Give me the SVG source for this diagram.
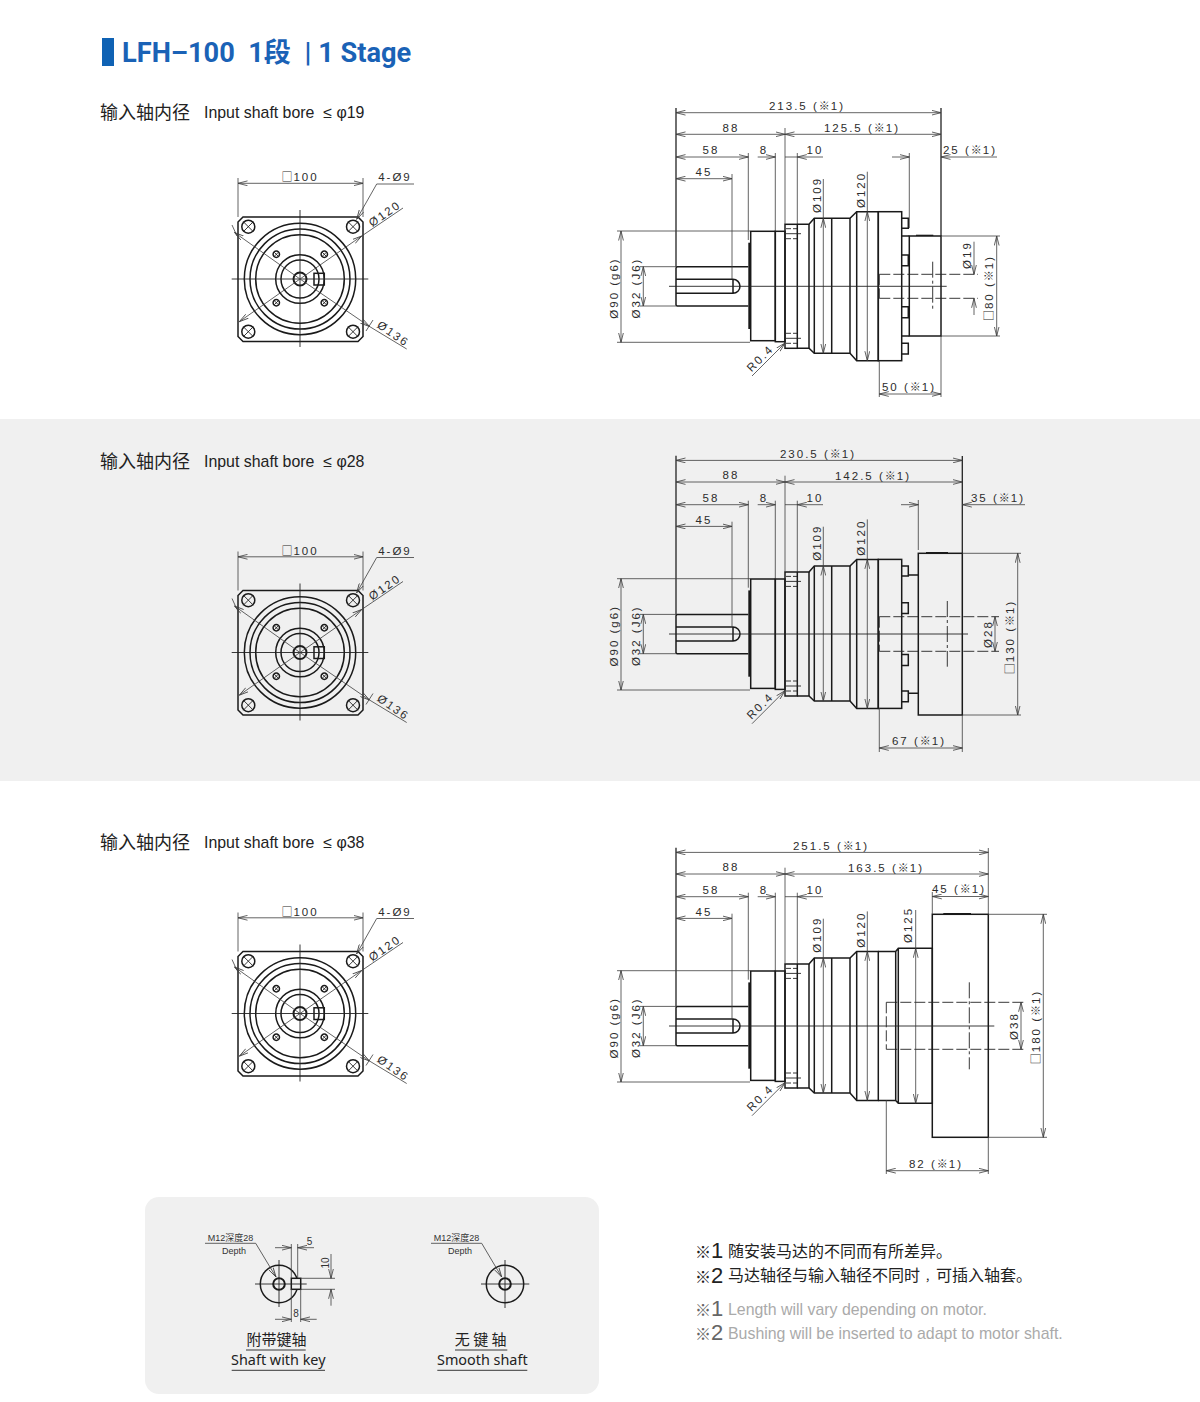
<svg xmlns="http://www.w3.org/2000/svg" xmlns:xlink="http://www.w3.org/1999/xlink" width="1200" height="1402" viewBox="0 0 1200 1402">
<style>
.o{fill:none;stroke:#1a1a1a;stroke-width:1.5}
.d,.a,.b,.c{fill:none;stroke:#3c3c3c;stroke-width:.8}
.a{marker-end:url(#v)}
.b{marker-start:url(#w);marker-end:url(#v)}
.c{stroke:#222;stroke-width:.9}
.f{fill:none;stroke:#222;stroke-width:1.3}
.h{fill:none;stroke:#222;stroke-width:.9;stroke-dasharray:11 3}
.k{fill:none;stroke:#222;stroke-width:.9;stroke-dasharray:16 3 3 3}
text{font-family:"Liberation Sans","Noto Sans CJK SC",sans-serif}
.t{font-size:11.5px;letter-spacing:2px;fill:#2c2c2c;text-anchor:middle}
.x{font-weight:700;font-size:11px;font-family:"Noto Sans CJK SC",sans-serif;letter-spacing:1px}
.bx{font-size:11px;font-family:"Noto Sans CJK SC",sans-serif;letter-spacing:1px}
.s{font-size:9px;fill:#333;text-anchor:middle}
.l{font-size:18px;fill:#222;font-family:"Noto Sans CJK SC",sans-serif}
.e{font-size:15.9px;fill:#222}
.cap{font-size:15px;fill:#222;text-anchor:middle;font-family:"Noto Sans CJK SC",sans-serif}
.en{font-size:14.4px;fill:#222;text-anchor:middle;font-family:"Noto Sans",sans-serif}
.n{font-size:16px;fill:#222;font-family:"Noto Sans CJK SC",sans-serif}
.g{font-size:15.9px;fill:#aaa}
.m{font-size:16px;font-weight:500;font-family:"Noto Sans CJK SC",sans-serif}
.q{font-size:22px}
</style>
<defs>
<marker id="v" markerUnits="userSpaceOnUse" markerWidth="10" markerHeight="6" refX="9.5" refY="3" orient="auto"><path d="M0,.6 L9.5,3 L0,5.4" fill="none" stroke="#3c3c3c" stroke-width=".8"/></marker>
<marker id="w" markerUnits="userSpaceOnUse" markerWidth="10" markerHeight="6" refX=".5" refY="3" orient="auto"><path d="M10,.6 L.5,3 L10,5.4" fill="none" stroke="#3c3c3c" stroke-width=".8"/></marker>
<g id="hole"><circle r="6.5" class="o"/><path d="M-5,-5 L5,5 M-5,5 L5,-5" class="c"/></g>
<g id="pin"><circle r="3.2" class="o"/><path d="M-2,-2 L2,2 M-2,2 L2,-2" class="c"/></g>
<g id="front">
<path d="M243,217 H358 L363,222 V336.5 L358,341.5 H243 L238,336.5 V222 Z" class="o"/>
<circle cx="300" cy="279" r="55.7" class="o"/><circle cx="300" cy="279" r="50" class="o"/><circle cx="300" cy="279" r="44.3" class="o"/>
<circle cx="300" cy="279" r="24.3" class="o"/><circle cx="300" cy="279" r="19" class="o"/>
<circle cx="300" cy="279" r="6.5" class="o" style="stroke-width:2"/>
<rect x="314" y="273.3" width="10.3" height="11.7" class="o"/>
<use xlink:href="#hole" x="248.3" y="226.7"/><use xlink:href="#hole" x="353" y="226.7"/><use xlink:href="#hole" x="248.3" y="331.7"/><use xlink:href="#hole" x="353" y="331.7"/>
<use xlink:href="#pin" x="276.3" y="254.3"/><use xlink:href="#pin" x="324.3" y="254.3"/><use xlink:href="#pin" x="276.3" y="302.7"/><use xlink:href="#pin" x="324.3" y="302.7"/>
<path d="M231.7,279 H368.3 M300,210 V347" class="c"/>
<path d="M238,178 V217 M363,178 V217" class="d"/>
<path d="M238,183.3 H363" class="b"/>
<path d="M414,184 H376.7 L356.7,219.3" class="a"/>
<path d="M403,208 L361.7,236" class="d"/><path d="M300,279 L361.7,236" class="a"/><path d="M300,279 L239.3,321.7" class="a"/>
<path d="M232,225 L237,236 M373,320 L366,331" class="d"/>
<path d="M300,279 L234.5,232.5" class="a"/><path d="M300,279 L369.5,326.5" class="a"/><path d="M369.5,326.5 L406.7,349" class="d"/>
</g>
<g id="gear">
<path d="M748.3,266.7 H677 L676,268 V305 L677,306 H748.3" class="o"/>
<path d="M676,279.3 H733 A7,7 0 0 1 733,293.3 H676 M733,279.3 V293.3" class="o"/>
<rect x="748.3" y="242.7" width="2.4" height="86.3" fill="#1a1a1a"/>
<rect x="750.7" y="231.3" width="24.6" height="109.4" class="o"/>
<rect x="775.3" y="231.3" width="9.7" height="110.4" class="o"/>
<rect x="785" y="224.3" width="12.3" height="124" class="o"/>
<path d="M797.3,224.3 H809 L814.3,218.3 H850 L856.7,211.7 H878.3 V360.7 H856.7 L850,353.3 H814.3 L809,348.3 H797.3" class="o"/>
<path d="M809,224.3 V348.3 M814.3,218.3 V353.3 M831.7,218.3 V353.3 M850,218.3 V353.3 M856.7,211.7 V360.7" class="o"/>
<path d="M786,233.7 H801 M786,338.3 H801" class="c"/>
<path d="M786,228.7 H797 M786,238.7 H797 M786,333.3 H797 M786,343.3 H797" class="h" style="stroke-dasharray:5 2"/>
<path d="M676,108 V266.7" class="f"/>
<path d="M785,128 V224 M775.3,153 V231 M797.3,153 V224 M748.3,153 V240 M732,174 V279 M823.3,179 V218.3 M867.3,171.7 V211.7" class="d"/>
<path d="M676,134.3 H785" class="b"/>
<path d="M676,157 H748.3" class="b"/><path d="M676,178.7 H732" class="b"/>
<path d="M757.7,157 H775.3" class="a"/><path d="M797.3,157 H785" class="d"/><path d="M823,157 H797.3" class="a"/>
<path d="M617,231 H750 M617,342.3 H750 M640,266.7 H676 M640,306 H676" class="d"/>
<path d="M621,231 V342.3" class="b"/><path d="M643.3,266.7 V306" class="b"/>
<path d="M823.3,218.3 V353.3" class="b"/><path d="M867.3,211.7 V360.7" class="b"/>
<path d="M752,376 L785,343" class="a"/>
</g>
<g id="studs">
<rect x="878.3" y="211.7" width="23.4" height="149" class="o"/>
<path d="M901.7,218.3 H908.3 V228.3 H901.7 M901.7,255 H908.3 V265.7 H901.7 M901.7,306.7 H908.3 V317.7 H901.7 M901.7,343.3 H908.3 V354 H901.7" class="o"/>
</g>
</defs>
<rect width="1200" height="1402" fill="#fff"/>
<rect y="419" width="1200" height="362" fill="#f0f0f0"/>
<g id="title">
<rect x="102" y="38" width="12" height="28" fill="#0f62b4"/>
<text x="122" y="62" font-size="27.2" font-weight="700" fill="#1a62b6" style="font-family:Roboto,'Noto Sans CJK SC',sans-serif" xml:space="preserve">LFH–100  1段  | 1 Stage</text>
</g>
<g id="heading-1"><text x="100" y="118.5" class="l">输入轴内径</text><text x="204" y="118" class="e" xml:space="preserve">Input shaft bore  ≤ φ19</text></g>
<g id="heading-2"><text x="100" y="468" class="l">输入轴内径</text><text x="204" y="467" class="e" xml:space="preserve">Input shaft bore  ≤ φ28</text></g>
<g id="heading-3"><text x="100" y="849" class="l">输入轴内径</text><text x="204" y="848" class="e" xml:space="preserve">Input shaft bore  ≤ φ38</text></g>

<g id="front-1">
<use xlink:href="#front"/>
<text x="300" y="181" class="t"><tspan class="bx">□</tspan>100</text><text x="395" y="181" class="t">4-Ø9</text>
<text class="t" transform="translate(387 217) rotate(-35)">Ø120</text><text class="t" transform="translate(391 337) rotate(35)">Ø136</text>
</g>
<g id="front-2" transform="translate(0 373.5)">
<use xlink:href="#front"/>
<text x="300" y="181" class="t"><tspan class="bx">□</tspan>100</text><text x="395" y="181" class="t">4-Ø9</text>
<text class="t" transform="translate(387 217) rotate(-35)">Ø120</text><text class="t" transform="translate(391 337) rotate(35)">Ø136</text>
</g>
<g id="front-3" transform="translate(0 734.5)">
<use xlink:href="#front"/>
<text x="300" y="181" class="t"><tspan class="bx">□</tspan>100</text><text x="395" y="181" class="t">4-Ø9</text>
<text class="t" transform="translate(387 217) rotate(-35)">Ø120</text><text class="t" transform="translate(391 337) rotate(35)">Ø136</text>
</g>

<g id="side-1">
<use xlink:href="#gear"/><use xlink:href="#studs"/>
<rect x="909.3" y="236" width="31.7" height="100" class="o"/><path d="M901.7,236 H909.3 M901.7,336 H909.3" class="o"/>
<rect x="916" y="234.7" width="17.3" height="1.3" fill="#1a1a1a"/>
<path d="M879.3,274.3 H978 M879.3,298.3 H978 M879.3,274.3 V298.3" class="h"/><path d="M932.7,261.7 V310" class="k"/>
<path d="M669,286.3 H946.7" class="c"/>
<path d="M941,108 V236" class="f"/><path d="M909.3,153 V228 M941,336 V397 M879.3,361 V397 M941,236 H1000 M941,336 H1000" class="d"/>
<path d="M676,112.7 H941" class="b"/><path d="M785,134.3 H941" class="b"/>
<path d="M892,157 H909.3" class="a"/><path d="M997,157 H941" class="a"/>
<path d="M974,241.7 V274.3" class="a"/><path d="M974,315 V298.3" class="a"/>
<path d="M996.7,236 V336" class="b"/><path d="M879.3,394 H941" class="b"/>
<text x="807" y="109.5" class="t">213.5 (<tspan class="x">※</tspan>1)</text><text x="731" y="131.5" class="t">88</text><text x="862" y="131.5" class="t">125.5 (<tspan class="x">※</tspan>1)</text>
<text x="711" y="154" class="t">58</text><text x="764" y="154" class="t">8</text><text x="815" y="154" class="t">10</text><text x="970" y="154" class="t">25 (<tspan class="x">※</tspan>1)</text><text x="704" y="176" class="t">45</text>
<text class="t" transform="translate(618 288) rotate(-90)">Ø90 (g6)</text><text class="t" transform="translate(640 288) rotate(-90)">Ø32 (J6)</text>
<text class="t" transform="translate(821 195) rotate(-90)">Ø109</text><text class="t" transform="translate(865 190) rotate(-90)">Ø120</text>
<text class="t" transform="translate(971 255) rotate(-90)">Ø19</text><text class="t" transform="translate(993 288) rotate(-90)"><tspan class="bx">□</tspan>80 (<tspan class="x">※</tspan>1)</text>
<text class="t" transform="translate(763 361) rotate(-45)">R0.4</text>
<text x="909" y="390.5" class="t">50 (<tspan class="x">※</tspan>1)</text>
</g>

<g id="side-2">
<g transform="translate(0 347.7)"><use xlink:href="#gear"/><use xlink:href="#studs"/>
<text x="731" y="131.5" class="t">88</text><text x="711" y="154" class="t">58</text><text x="764" y="154" class="t">8</text><text x="815" y="154" class="t">10</text><text x="704" y="176" class="t">45</text>
<text class="t" transform="translate(618 288) rotate(-90)">Ø90 (g6)</text><text class="t" transform="translate(640 288) rotate(-90)">Ø32 (J6)</text>
<text class="t" transform="translate(821 195) rotate(-90)">Ø109</text><text class="t" transform="translate(865 190) rotate(-90)">Ø120</text>
<text class="t" transform="translate(763 361) rotate(-45)">R0.4</text>
</g>
<rect x="918.3" y="553.3" width="44" height="161.7" class="o"/><path d="M908.3,575 H918.3 M908.3,693.3 H918.3" class="o"/>
<rect x="926" y="552" width="22" height="1.3" fill="#1a1a1a"/>
<path d="M879.3,616.7 H999 M879.3,651.3 H999 M879.3,616.7 V651.3" class="h"/><path d="M947.3,601 V666.7" class="k"/>
<path d="M669,634 H968" class="c"/>
<path d="M962.3,456 V553" class="f"/><path d="M918.3,500 V550 M962.3,715 V752 M879.3,708 V752 M962.3,553.3 H1021 M962.3,715 H1021" class="d"/>
<path d="M676,460.4 H962.3" class="b"/><path d="M785,482 H962.3" class="b"/>
<path d="M901,504.7 H918.3" class="a"/><path d="M1025,504.7 H962.3" class="a"/>
<path d="M995,616.7 V651.3" class="b"/><path d="M1017.7,553.3 V715" class="b"/><path d="M879.3,748 H962.3" class="b"/>
<text x="818" y="457.5" class="t">230.5 (<tspan class="x">※</tspan>1)</text><text x="873" y="479.5" class="t">142.5 (<tspan class="x">※</tspan>1)</text><text x="998" y="501.5" class="t">35 (<tspan class="x">※</tspan>1)</text>
<text class="t" transform="translate(992 634) rotate(-90)">Ø28</text><text class="t" transform="translate(1014 637) rotate(-90)"><tspan class="bx">□</tspan>130 (<tspan class="x">※</tspan>1)</text>
<text x="919" y="745" class="t">67 (<tspan class="x">※</tspan>1)</text>
</g>

<g id="side-3">
<g transform="translate(0 739.7)"><use xlink:href="#gear"/>
<text x="731" y="131.5" class="t">88</text><text x="711" y="154" class="t">58</text><text x="764" y="154" class="t">8</text><text x="815" y="154" class="t">10</text><text x="704" y="176" class="t">45</text>
<text class="t" transform="translate(618 288) rotate(-90)">Ø90 (g6)</text><text class="t" transform="translate(640 288) rotate(-90)">Ø32 (J6)</text>
<text class="t" transform="translate(821 195) rotate(-90)">Ø109</text><text class="t" transform="translate(865 190) rotate(-90)">Ø120</text>
<text class="t" transform="translate(763 361) rotate(-45)">R0.4</text>
</g>
<path d="M878.3,951.4 H895.7 L898.3,948.3 H932.3 V1103.3 H898.3 L895.7,1100.4 H878.3 M895.7,951.4 V1100.4 M898.3,948.3 V1103.3" class="o"/>
<rect x="932.3" y="914.3" width="56" height="223" class="o"/>
<rect x="943.3" y="913" width="27.7" height="1.3" fill="#1a1a1a"/>
<path d="M886.3,1002.3 H1025 M886.3,1049.3 H1025 M886.3,1002.3 V1049.3" class="h"/><path d="M969.3,982.3 V1069.3" class="k"/>
<path d="M669,1026 H994.3" class="c"/>
<path d="M988.3,848 V914 M932.3,892 V914 M915.7,910 V948 M988.3,1137 V1174 M886.3,1100 V1174 M988.3,914.3 H1047 M988.3,1137.3 H1047" class="d"/>
<path d="M676,852.4 H988.3" class="b"/><path d="M785,874 H988.3" class="b"/><path d="M932.3,896.5 H988.3" class="b"/>
<path d="M915.7,948.3 V1103.3" class="b"/><path d="M1021,1002.3 V1049.3" class="b"/><path d="M1043.3,914.3 V1137.3" class="b"/><path d="M886.3,1170.7 H988.3" class="b"/>
<text x="831" y="849.5" class="t">251.5 (<tspan class="x">※</tspan>1)</text><text x="886" y="871.5" class="t">163.5 (<tspan class="x">※</tspan>1)</text><text x="959" y="893" class="t">45 (<tspan class="x">※</tspan>1)</text>
<text class="t" transform="translate(912 925) rotate(-90)">Ø125</text><text class="t" transform="translate(1018 1026) rotate(-90)">Ø38</text><text class="t" transform="translate(1040 1027) rotate(-90)"><tspan class="bx">□</tspan>180 (<tspan class="x">※</tspan>1)</text>
<text x="936" y="1167.5" class="t">82 (<tspan class="x">※</tspan>1)</text>
</g>

<rect id="panel" x="145" y="1197" width="454" height="197" rx="14" fill="#f0f0f0"/>
<g id="shaft-key">
<circle cx="279" cy="1284" r="18.7" class="o"/><circle cx="279" cy="1284" r="5.8" class="o" style="stroke-width:2"/>
<rect x="291.3" y="1278.3" width="9.4" height="11" class="o" style="fill:#f0f0f0"/>
<path d="M255,1284 H306.7 M279,1260 V1307" class="c"/>
<path d="M205,1243.3 H255.7 L276,1277" class="a"/>
<path d="M291.3,1244 V1278 M297.7,1244 V1278 M291.3,1289 V1322 M300.7,1289 V1322 M300.7,1278.3 H335 M300.7,1289.3 H335" class="d"/>
<path d="M275,1247.7 H291.3" class="a"/><path d="M314,1247.7 H297.7" class="a"/>
<path d="M331,1254 V1278.3" class="a"/><path d="M331,1305.7 V1289.3" class="a"/>
<path d="M275,1319.3 H291.3" class="a"/><path d="M316.7,1319.3 H300.7" class="a"/>
<text x="230.5" y="1240.5" class="s">M12深度28</text><text x="234" y="1254" class="s">Depth</text>
<text x="309.5" y="1245" font-size="10" fill="#333" text-anchor="middle">5</text>
<text x="296" y="1317" font-size="10" fill="#333" text-anchor="middle">8</text>
<text transform="translate(328.5 1263) rotate(-90)" font-size="10" fill="#333" text-anchor="middle">10</text>
<text x="276.5" y="1345" class="cap">附带键轴</text><path d="M246,1350 H305.7 M231.7,1370.3 H325" class="c"/>
<text x="278.3" y="1365" class="en">Shaft with key</text>
</g>
<g id="shaft-smooth">
<circle cx="505" cy="1284" r="18.7" class="o"/><circle cx="505" cy="1284" r="5.8" class="o" style="stroke-width:2"/>
<path d="M481,1284 H529.3 M505,1260 V1308" class="c"/>
<path d="M431,1243.3 H481.7 L501.7,1277" class="a"/>
<text x="456.5" y="1240.5" class="s">M12深度28</text><text x="460" y="1254" class="s">Depth</text>
<text x="480.7" y="1345" class="cap" xml:space="preserve">无 键 轴</text><path d="M455,1350 H507.3 M437.3,1370.3 H527.3" class="c"/>
<text x="482.3" y="1365" class="en">Smooth shaft</text>
</g>
<g id="notes">
<text x="695" y="1257.5" fill="#222"><tspan class="m">※</tspan><tspan class="q">1</tspan></text><text x="728" y="1256.5" class="n">随安装马达的不同而有所差异。</text>
<text x="695" y="1282.5" fill="#222"><tspan class="m">※</tspan><tspan class="q">2</tspan></text><text x="728" y="1280.5" class="n">马达轴径与输入轴径不同时<tspan dx="5" font-size="11">，</tspan>可插入轴套。</text>
<text x="695" y="1316" fill="#666"><tspan class="m">※</tspan><tspan class="q">1</tspan></text><text x="728" y="1315" class="g">Length will vary depending on motor.</text>
<text x="695" y="1340" fill="#666"><tspan class="m">※</tspan><tspan class="q">2</tspan></text><text x="728" y="1339" class="g">Bushing will be inserted to adapt to motor shaft.</text>
</g>
</svg>
